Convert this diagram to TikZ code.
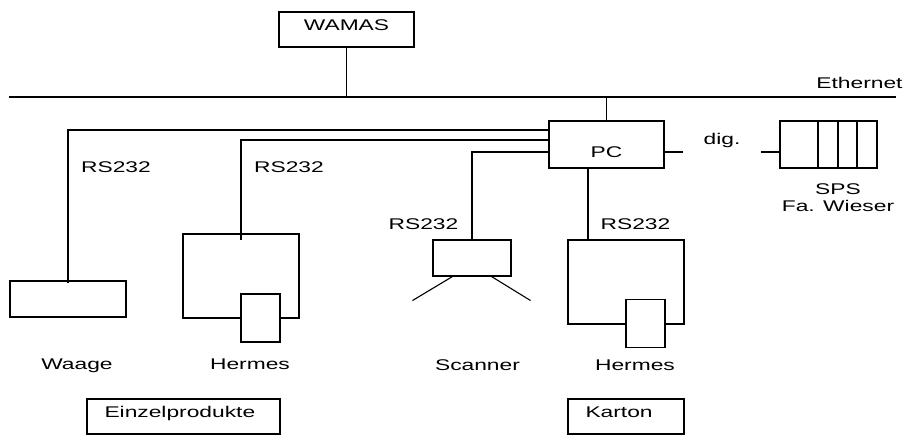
\documentclass[tikz,border=0pt]{standalone}
\usepackage{fontspec}
\setmainfont[FakeStretch=1.47]{Liberation Sans}
\begin{document}
\begin{tikzpicture}[x=1pt,y=-1pt,line width=1.1pt,font=\fontsize{15.5}{17}\selectfont,
	box/.style={draw,rectangle,inner sep=0pt,text height=11pt,text depth=9pt},
	lbl/.style={inner sep=0pt,text height=11pt,text depth=3pt}]
	\useasboundingbox (0,0) rectangle (905,435);
	% Ethernet
	\coordinate (ethL) at (9,97);
	\coordinate (ethR) at (896,97);
	\draw (ethL) -- (ethR);
	\node[lbl] (eth) at (859.5,84.5) {Ethernet};
	\node[box,minimum width=135pt,minimum height=35pt] (wamas) at (346.5,29.5) {WAMAS};
	\draw (wamas.south) -- (wamas.south |- ethL);
	% PC and SPS
	\node[box,minimum width=115pt,minimum height=47pt,text height=26pt,text depth=0pt] (pc) at (606.5,144.5) {PC};
	\draw (pc.north) -- (pc.north |- ethL);
	\node[box,minimum width=97pt,minimum height=47pt] (sps) at (828.5,144.5) {};
	\foreach \x in {818,838,857}
		\draw (sps.north -| \x,0) -- (sps.south -| \x,0);
	\node[inner sep=0pt,align=center] (spsname) at (838,197.5) {SPS\\Fa. Wieser};
	\coordinate (digA) at (683,152);
	\coordinate (digB) at (761,152);
	\draw (pc.east |- digA) -- (digA);
	\draw (digB) -- (sps.west |- digB);
	\node[lbl] (dig) at (722,141) {dig.};
	% devices
	\node[box,minimum width=116pt,minimum height=36pt] (waage) at (68,299) {};
	\node[box,minimum width=116pt,minimum height=84pt] (herm1) at (241,276) {};
	\node[box,fill=white,minimum width=39pt,minimum height=48pt] (herm1in) at (260.5,318) {};
	\node[box,minimum width=78pt,minimum height=36pt] (scan) at (472,258) {};
	\draw ([xshift=20pt]scan.south west) -- ++(-40,24);
	\draw ([xshift=-20pt]scan.south east) -- ++(39,24);
	\node[box,minimum width=116pt,minimum height=84pt] (herm2) at (626,282) {};
	\node[box,fill=white,minimum width=39pt,minimum height=48pt] (herm2in) at (645.5,323.5) {};
	% RS232 lines
	\draw (pc.west |- 0,130) -| ([yshift=-3pt]waage.north);
	\draw (pc.west |- 0,140) -| ([yshift=-7pt]herm1.north);
	\draw (pc.west |- 0,152) -| (scan.north);
	\draw (pc.south -| 588,0) -- (herm2.north -| 588,0);
	\node[lbl] (rs1) at (116,168.5) {RS232};
	\node[lbl] (rs2) at (289,168.5) {RS232};
	\node[lbl] (rs3) at (423.5,225.5) {RS232};
	\node[lbl] (rs4) at (635.5,225.5) {RS232};
	% names
	\node[lbl] (waagename) at (77,365.5) {Waage};
	\node[lbl] (herm1name) at (250,365.5) {Hermes};
	\node[lbl] (scanname) at (477.5,366.5) {Scanner};
	\node[lbl] (herm2name) at (635,366.5) {Hermes};
	\node[box,minimum width=193pt,minimum height=35pt,text width=158pt,align=left] (einzel) at (183.5,416.5) {Einzelprodukte};
	\node[box,minimum width=116pt,minimum height=35pt,text width=81pt,align=left] (karton) at (626,416.5) {Karton};
\end{tikzpicture}
\end{document}
